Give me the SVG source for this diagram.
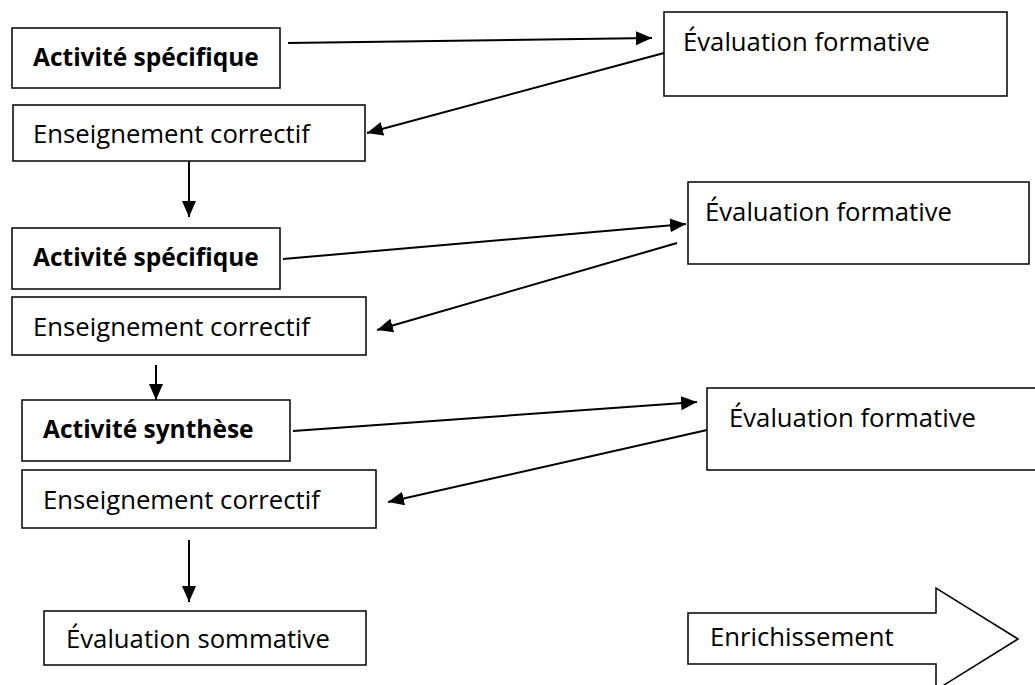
<svg xmlns="http://www.w3.org/2000/svg" width="1035" height="685" viewBox="0 0 1035 685">
<style>
  .box { fill: #ffffff; stroke: #000000; stroke-width: 1.5; }
  .lbl { font-family: "Open Sans", "Liberation Sans", sans-serif; font-size: 25.7px; fill: #000000; }
  .bold { font-weight: bold; font-size: 24.5px; }
  .conn { stroke: #000000; stroke-width: 2; fill: none; marker-end: url(#arrow); }
</style>
<defs>
  <marker id="arrow" markerUnits="userSpaceOnUse" markerWidth="17" markerHeight="15" refX="16" refY="7" orient="auto">
    <path d="M0,0 L16,7 L0,14 z" fill="#000000"/>
  </marker>
</defs>
<rect width="1035" height="685" fill="#ffffff"/>
<g id="connectors">
  <line class="conn" x1="288" y1="43" x2="652" y2="38"/>
  <line class="conn" x1="664" y1="53" x2="367" y2="133"/>
  <line class="conn" x1="283" y1="259" x2="686" y2="224"/>
  <line class="conn" x1="677" y1="243" x2="377" y2="330"/>
  <line class="conn" x1="293" y1="431" x2="697" y2="402"/>
  <line class="conn" x1="707" y1="430" x2="388" y2="502"/>
  <line class="conn" x1="189" y1="161" x2="189" y2="217"/>
  <line class="conn" x1="156" y1="365" x2="156" y2="400"/>
  <line class="conn" x1="189" y1="540" x2="189" y2="602"/>
</g>
<g id="activite1">
  <rect class="box" x="12" y="28" width="268" height="60"/>
  <text class="lbl bold" x="33" y="66">Activité spécifique</text>
</g>
<g id="evaluation1">
  <rect class="box" x="664" y="12" width="343" height="84"/>
  <text class="lbl" x="683" y="51">Évaluation formative</text>
</g>
<g id="correctif1">
  <rect class="box" x="13" y="105" width="352" height="56"/>
  <text class="lbl" x="33" y="143">Enseignement correctif</text>
</g>
<g id="activite2">
  <rect class="box" x="12" y="228" width="268" height="61"/>
  <text class="lbl bold" x="33" y="266">Activité spécifique</text>
</g>
<g id="evaluation2">
  <rect class="box" x="688" y="182" width="341" height="82"/>
  <text class="lbl" x="705" y="221">Évaluation formative</text>
</g>
<g id="correctif2">
  <rect class="box" x="12" y="297" width="354" height="58"/>
  <text class="lbl" x="33" y="336">Enseignement correctif</text>
</g>
<g id="synthese">
  <rect class="box" x="22" y="400" width="268" height="61"/>
  <text class="lbl bold" x="43" y="438">Activité synthèse</text>
</g>
<g id="evaluation3">
  <rect class="box" x="707" y="388" width="340" height="82"/>
  <text class="lbl" x="729" y="427">Évaluation formative</text>
</g>
<g id="correctif3">
  <rect class="box" x="22" y="470" width="354" height="58"/>
  <text class="lbl" x="43" y="509">Enseignement correctif</text>
</g>
<g id="sommative">
  <rect class="box" x="44" y="611" width="322" height="54"/>
  <text class="lbl" x="66" y="648">Évaluation sommative</text>
</g>
<g id="enrichissement">
  <polygon class="box" points="688,613 936,613 936,588 1018,639 936,690 936,664 688,664"/>
  <text class="lbl" x="710" y="646">Enrichissement</text>
</g>
</svg>
